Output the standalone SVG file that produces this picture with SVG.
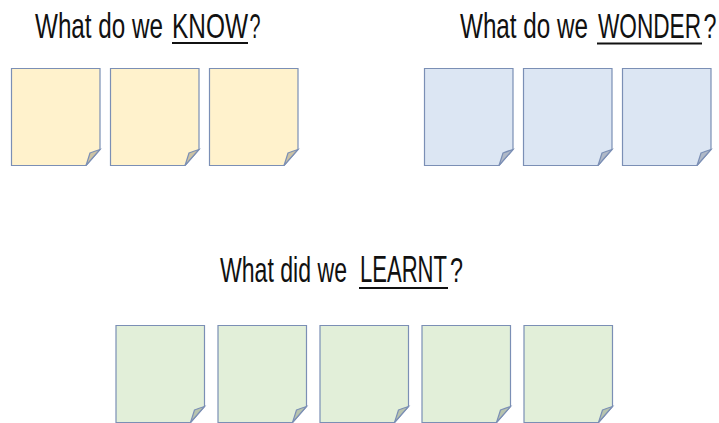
<svg xmlns="http://www.w3.org/2000/svg" width="719" height="423" viewBox="0 0 719 423">
<style>
.t{font-family:"Liberation Sans","DejaVu Sans",sans-serif;font-size:24px;fill:#111;}
.n{stroke:#7b8fb5;stroke-width:1.2;stroke-linejoin:miter;}
.y{fill:#fff2cc;}.b{fill:#dce6f3;}.g{fill:#e2efd9;}
.fy{fill:#cdc3a4;}.fb{fill:#b0b9c7;}.fg{fill:#b8c4ae;}
.u{stroke:#111;stroke-width:2;}
</style>
<defs>
<path id="body" d="M0,0 H88.5 V81 L74.5,97 H0 Z"/>
<path id="flap" d="M74.5,97 Q76.5,91 78.5,84.5 Q83,82.8 88.5,81 Z"/>
</defs>
<rect width="719" height="423" fill="#fff"/>
<g id="title-know">
<text class="t" transform="translate(35,38) scale(1,1.5)" textLength="128" lengthAdjust="spacingAndGlyphs">What do we</text>
<text class="t" transform="translate(172,38) scale(1,1.5)" textLength="76" lengthAdjust="spacingAndGlyphs">KNOW</text>
<text class="t" transform="translate(249.5,38) scale(1,1.5)" textLength="11" lengthAdjust="spacingAndGlyphs">?</text>
<line class="u" x1="172" y1="43" x2="248" y2="43"/>
</g>
<g id="title-wonder">
<text class="t" transform="translate(460,38) scale(1,1.5)" textLength="128" lengthAdjust="spacingAndGlyphs">What do we</text>
<text class="t" style="font-size:22.6px" transform="translate(598,38) scale(1,1.59)" textLength="103" lengthAdjust="spacingAndGlyphs">WONDER</text>
<text class="t" transform="translate(703.5,38) scale(1,1.5)" textLength="13" lengthAdjust="spacingAndGlyphs">?</text>
<line class="u" x1="597" y1="43.5" x2="702" y2="43.5"/>
</g>
<g id="title-learnt">
<text class="t" transform="translate(220,282) scale(1,1.5)" textLength="127" lengthAdjust="spacingAndGlyphs">What did we</text>
<text class="t" style="font-size:22px" transform="translate(360,282) scale(1,1.64)" textLength="87" lengthAdjust="spacingAndGlyphs">LEARNT</text>
<text class="t" transform="translate(450,282) scale(1,1.5)" textLength="13" lengthAdjust="spacingAndGlyphs">?</text>
<line class="u" x1="359" y1="288" x2="448" y2="288"/>
</g>
<g id="know-1" transform="translate(11.5,68.5)"><use href="#body" class="n y"/><use href="#flap" class="n fy"/></g>
<g id="know-2" transform="translate(110.5,68.5)"><use href="#body" class="n y"/><use href="#flap" class="n fy"/></g>
<g id="know-3" transform="translate(209.5,68.5)"><use href="#body" class="n y"/><use href="#flap" class="n fy"/></g>
<g id="wonder-1" transform="translate(424.5,68.5)"><use href="#body" class="n b"/><use href="#flap" class="n fb"/></g>
<g id="wonder-2" transform="translate(523.5,68.5)"><use href="#body" class="n b"/><use href="#flap" class="n fb"/></g>
<g id="wonder-3" transform="translate(622.5,68.5)"><use href="#body" class="n b"/><use href="#flap" class="n fb"/></g>
<g id="learnt-1" transform="translate(116,325.5)"><use href="#body" class="n g"/><use href="#flap" class="n fg"/></g>
<g id="learnt-2" transform="translate(218,325.5)"><use href="#body" class="n g"/><use href="#flap" class="n fg"/></g>
<g id="learnt-3" transform="translate(320,325.5)"><use href="#body" class="n g"/><use href="#flap" class="n fg"/></g>
<g id="learnt-4" transform="translate(422,325.5)"><use href="#body" class="n g"/><use href="#flap" class="n fg"/></g>
<g id="learnt-5" transform="translate(524,325.5)"><use href="#body" class="n g"/><use href="#flap" class="n fg"/></g>
<g id="connectors"></g>
</svg>
